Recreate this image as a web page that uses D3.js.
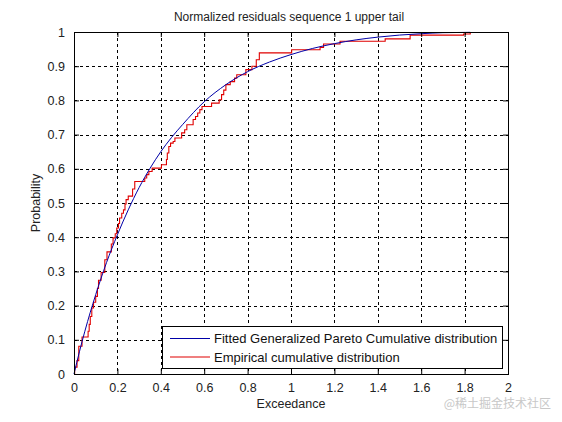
<!DOCTYPE html>
<html><head><meta charset="utf-8">
<script src="https://cdn.jsdelivr.net/npm/d3@7"></script>
<style>
html,body{margin:0;padding:0;background:#fff;}
svg{display:block;font-family:"Liberation Sans",Arial,sans-serif;}
</style></head>
<body><svg id="c" width="562" height="422"></svg>
<script>
// ---- data ----
const titleText = "Normalized residuals sequence 1 upper tail";
const xLabel = "Exceedance";
const yLabel = "Probability";
const xTicks = [0,0.2,0.4,0.6,0.8,1,1.2,1.4,1.6,1.8,2];
const yTicks = [0,0.1,0.2,0.3,0.4,0.5,0.6,0.7,0.8,0.9,1];
const legendLabels = ["Fitted Generalized Pareto Cumulative distribution","Empirical cumulative distribution"];
// fitted GPD cdf
const fitX = [0,0.025,0.05,0.1,0.15,0.2,0.25,0.3,0.35,0.4,0.45,0.5,0.6,0.7,0.8,0.9,1.0,1.1,1.2,1.3,1.4,1.5,1.6,1.7,1.826];
const fitY = [0,0.065,0.125,0.232,0.326,0.407,0.48,0.545,0.601,0.65,0.692,0.729,0.796,0.846,0.884,0.912,0.934,0.952,0.966,0.977,0.985,0.991,0.995,0.998,0.999];
// empirical cdf steps (x where the cdf jumps, value after jump)
const empX = [0,0.003,0.014,0.022,0.037,0.065,0.07,0.075,0.082,0.09,0.1,0.108,0.113,0.125,0.142,0.152,0.172,0.18,0.19,0.197,0.205,0.21,0.22,0.228,0.235,0.24,0.25,0.27,0.28,0.326,0.335,0.345,0.36,0.403,0.426,0.43,0.437,0.445,0.457,0.465,0.496,0.51,0.52,0.549,0.56,0.57,0.58,0.59,0.634,0.669,0.68,0.69,0.70,0.72,0.74,0.75,0.792,0.82,0.84,0.854,1.003,1.134,1.15,1.226,1.434,1.549,1.795,1.826];
const empY = [0,0.02,0.039,0.081,0.108,0.125,0.145,0.168,0.193,0.21,0.227,0.25,0.274,0.297,0.334,0.357,0.38,0.398,0.41,0.427,0.44,0.456,0.47,0.48,0.497,0.51,0.52,0.541,0.563,0.573,0.583,0.592,0.602,0.612,0.627,0.646,0.665,0.675,0.68,0.69,0.705,0.714,0.729,0.744,0.753,0.763,0.773,0.782,0.792,0.802,0.817,0.83,0.846,0.855,0.865,0.875,0.89,0.9,0.919,0.939,0.948,0.955,0.965,0.973,0.98,0.991,0.994,1.0];

// ---- layout ----
const L = 74, T = 32, W = 434, H = 342;
const svg = d3.select("#c");
const x = d3.scaleLinear().domain([0,2]).range([L, L+W]);
const y = d3.scaleLinear().domain([0,1]).range([T+H, T]);
const blue = "#0000a8", red = "#e00000";

svg.append("rect").attr("x",0).attr("y",0).attr("width",562).attr("height",422).attr("fill","#fff");
svg.append("rect").attr("x",L).attr("y",T).attr("width",W).attr("height",H).attr("fill","#fff");

// grid
const g = svg.append("g").attr("stroke","#000").attr("stroke-width",1).attr("stroke-dasharray","3,3");
xTicks.slice(1,-1).forEach(v=>{
  g.append("line").attr("x1",Math.round(x(v))+0.5).attr("x2",Math.round(x(v))+0.5).attr("y1",T).attr("y2",T+H);
});
yTicks.slice(1,-1).forEach(v=>{
  g.append("line").attr("y1",Math.round(y(v))+0.5).attr("y2",Math.round(y(v))+0.5).attr("x1",L).attr("x2",L+W);
});

// curves
const stepLine = d3.line().x(d=>x(d[0])).y(d=>y(d[1])).curve(d3.curveStepAfter);
const smooth = d3.line().x(d=>x(d[0])).y(d=>y(d[1])).curve(d3.curveMonotoneX);
svg.append("path").datum(empX.map((v,i)=>[v,empY[i]])).attr("d",stepLine)
  .attr("fill","none").attr("stroke",red).attr("stroke-width",1.1);
svg.append("path").datum(fitX.map((v,i)=>[v,fitY[i]])).attr("d",smooth)
  .attr("fill","none").attr("stroke",blue).attr("stroke-width",1);

// axes with inward ticks
const xa = d3.axisBottom(x).tickValues(xTicks).tickSize(-5).tickPadding(9).tickFormat(d=>String(+d.toFixed(1)));
const ya = d3.axisLeft(y).tickValues(yTicks).tickSize(-5).tickPadding(9).tickFormat(d=>String(+d.toFixed(1)));
const xaT = d3.axisTop(x).tickValues(xTicks).tickSize(-5).tickFormat("");
const yaR = d3.axisRight(y).tickValues(yTicks).tickSize(-5).tickFormat("");
function style(sel){
  sel.select(".domain").remove();
  sel.selectAll("line").attr("stroke","#000");
  sel.selectAll("text").attr("fill","#222").attr("font-size",12.5).attr("font-family","Liberation Sans, Arial, sans-serif");
}
svg.append("g").attr("transform",`translate(0,${T+H})`).call(xa).call(style);
svg.append("g").attr("transform",`translate(${L},0)`).call(ya).call(style);
svg.append("g").attr("transform",`translate(0,${T})`).call(xaT).call(style);
svg.append("g").attr("transform",`translate(${L+W},0)`).call(yaR).call(style);

svg.append("rect").attr("x",L+0.5).attr("y",T+0.5).attr("width",W).attr("height",H)
  .attr("fill","none").attr("stroke","#000").attr("stroke-width",1);

// legend
const lg = svg.append("g");
lg.append("rect").attr("x",162.5).attr("y",326.5).attr("width",340).attr("height",42)
  .attr("fill","#fff").attr("stroke","#000");
[blue, red].forEach((c,i)=>{
  const yy = 338.5 + i*18.5;
  lg.append("line").attr("x1",170).attr("x2",210).attr("y1",yy).attr("y2",yy).attr("stroke",c).attr("stroke-width",1.1);
  lg.append("text").attr("x",214).attr("y",yy+4.5).attr("font-size",13).attr("fill","#111").text(legendLabels[i]);
});

// titles
svg.append("text").attr("x",289).attr("y",21).attr("text-anchor","middle").attr("font-size",12).attr("fill","#222").text(titleText);
svg.append("text").attr("x",L+W/2).attr("y",408).attr("text-anchor","middle").attr("font-size",12.5).attr("fill","#222").text(xLabel);
svg.append("text").attr("transform",`translate(40,${T+H/2}) rotate(-90)`).attr("text-anchor","middle").attr("font-size",12.5).attr("fill","#222").text(yLabel);

// watermark
svg.append("text").attr("x",551).attr("y",408).attr("text-anchor","end").attr("font-size",12)
  .attr("font-family","Noto Sans CJK SC, sans-serif").attr("fill","#c8c8c8").text("@稀土掘金技术社区");
</script></body></html>
